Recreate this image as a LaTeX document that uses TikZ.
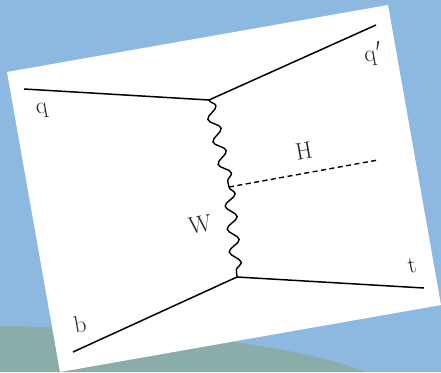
\documentclass[tikz,border=0pt]{standalone}
\usetikzlibrary{decorations.pathmorphing}
\definecolor{bgblue}{HTML}{8DB8E0}
\definecolor{hill}{HTML}{8AADA9}
\tikzset{
  fermion/.style={line width=1.5pt},
  boson/.style={line width=1.4pt, decorate, decoration={snake, segment length=23pt, amplitude=5.5pt}},
  scalar/.style={line width=1.4pt, dash pattern=on 5pt off 3.5pt},
  lbl/.style={font=\fontsize{24}{28}\selectfont, rotate=10, inner sep=0pt, text=black!85}
}
\begin{document}
\begin{tikzpicture}[x=1pt,y=-1pt]
\useasboundingbox (0,0) rectangle (441,372);
\fill[bgblue] (0,0) rectangle (441,372);
\fill[hill] (0,326) .. controls (150,328) and (300,345) .. (365,372) -- (0,372) -- cycle;
\fill[white] (7,72) -- (388,5) -- (441,305) -- (60,372) -- cycle;
\coordinate (qs) at (24,89);
\coordinate (V1) at (209,100);
\coordinate (qe) at (376,25);
\coordinate (Hv) at (229,187);
\coordinate (He) at (378,160);
\coordinate (V2) at (237,277);
\coordinate (bs) at (73,352);
\coordinate (te) at (424,288);
\draw[fermion] (qs) -- (V1) -- (qe);
\draw[fermion] (bs) -- (V2) -- (te);
\draw[boson] (V1) -- (Hv);
\draw[boson] (Hv) -- (V2);
\draw[scalar] (Hv) -- (He);
\node[lbl] (lq) at (42,111) {q};
\node[lbl] (lqp) at (373,54) {q\kern1pt$'$};
\node[lbl] (lH) at (304,151) {H};
\node[lbl] (lW) at (200,225) {W};
\node[lbl] (lb) at (80,324) {b};
\node[lbl] (lt) at (412,266) {t};
\end{tikzpicture}
\end{document}
